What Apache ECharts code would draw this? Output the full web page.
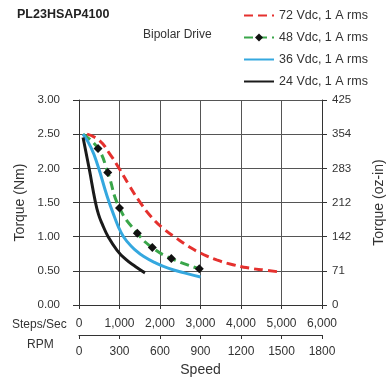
<!DOCTYPE html>
<html><head><meta charset="utf-8">
<script src="https://cdn.jsdelivr.net/npm/echarts@6/dist/echarts.min.js"></script>
<style>html,body{margin:0;padding:0;background:#fff}#c{width:388px;height:379px}</style>
</head><body><div id="c"></div>
<script>
var stepsTicks = ['0','1,000','2,000','3,000','4,000','5,000','6,000'];
var rpmTicks = ['0','300','600','900','1200','1500','1800'];
var ozTicks = ['0','71','142','212','283','354','425'];
var seriesNames = ['72 Vdc, 1 A rms','48 Vdc, 1 A rms','36 Vdc, 1 A rms','24 Vdc, 1 A rms'];
var v72 = [[200,2.5],[500,2.41],[750,2.22],[1000,1.99],[1250,1.74],[1500,1.51],[1800,1.28],[2100,1.11],[2400,0.98],[2700,0.86],[3000,0.76],[3400,0.66],[3800,0.59],[4200,0.54],[4600,0.51],[5000,0.48]];
var v48 = [[100,2.5],[470,2.29],[710,1.94],[1000,1.42],[1440,1.05],[1810,0.84],[2280,0.68],[2970,0.53]];
var v36 = [[100,2.5],[300,2.3],[470,2.03],[690,1.6],[870,1.3],[1040,1.06],[1200,0.92],[1400,0.8],[1600,0.71],[1880,0.62],[2200,0.54],[2600,0.47],[3000,0.41]];
var v24 = [[100,2.45],[250,2.0],[400,1.52],[480,1.33],[570,1.19],[720,1.0],[940,0.8],[1150,0.67],[1400,0.56],[1630,0.47]];

var FONT = '"Liberation Sans", Arial, sans-serif';
var TXT = '#333';
var AX = '#333';
var chart = echarts.init(document.getElementById('c'), null, {renderer:'canvas'});

var x0 = {type:'value',position:'bottom',min:0,max:6000,interval:1000,
  axisLine:{show:true,onZero:false,lineStyle:{color:AX,width:1}},
  axisTick:{show:true,length:4,lineStyle:{color:AX}},
  splitLine:{show:true,lineStyle:{color:'#555',width:1}},
  axisLabel:{color:TXT,fontFamily:FONT,fontSize:12,margin:13,formatter:function(v){return stepsTicks[Math.round(v/1000)];}}};
var x1 = {type:'value',position:'bottom',offset:30,min:0,max:6000,interval:1000,
  axisLine:{show:true,onZero:false,lineStyle:{color:AX,width:1}},
  axisTick:{show:true,length:4,lineStyle:{color:AX}},
  splitLine:{show:false},
  name:'Speed',nameLocation:'middle',nameGap:28,nameTextStyle:{color:TXT,fontFamily:FONT,fontSize:14},
  axisLabel:{color:TXT,fontFamily:FONT,fontSize:12,margin:11,formatter:function(v){return rpmTicks[Math.round(v/1000)];}}};
var y0 = {type:'value',position:'left',min:0,max:3,interval:0.5,
  axisLine:{show:true,onZero:false,lineStyle:{color:AX,width:1}},
  axisTick:{show:true,length:6,lineStyle:{color:AX}},
  name:'Torque (Nm)',nameLocation:'middle',nameGap:50,nameTextStyle:{color:TXT,fontFamily:FONT,fontSize:14},
  splitLine:{show:true,lineStyle:{color:'#555',width:1}},
  axisLabel:{color:TXT,fontFamily:FONT,fontSize:11.5,margin:19,formatter:function(v){return v.toFixed(2);}}};
var y1 = {type:'value',position:'right',min:0,max:3,interval:0.5,
  axisLine:{show:true,onZero:false,lineStyle:{color:AX,width:1}},
  axisTick:{show:true,length:5,lineStyle:{color:AX}},
  splitLine:{show:false},
  name:'Torque (oz-in)',nameLocation:'middle',nameGap:50,nameTextStyle:{color:TXT,fontFamily:FONT,fontSize:14},
  axisLabel:{color:TXT,fontFamily:FONT,fontSize:11.5,margin:10,formatter:function(v){return ozTicks[Math.round(v/0.5)];}}};

function mk(name, data, color, dashed, marker){
  return {name:name,type:'line',xAxisIndex:0,yAxisIndex:0,data:data,smooth:0.5,
    showSymbol:!!marker, symbol:marker?'diamond':'circle', symbolSize:9,
    itemStyle:{color:marker?'#111':'rgba(0,0,0,0)'},
    lineStyle:{color:color,width:3,type:dashed?[9,5]:'solid'},
    emphasis:{disabled:true}, animation:false};
}
var s48 = mk(seriesNames[1], v48.map(function(p,i){return i===0?{value:p,symbol:'none'}:p;}), '#3aa64a', true, true);
chart.setOption({
  animation:false,
  title:[
    {text:'PL23HSAP4100',left:15,top:6,padding:2,textStyle:{fontFamily:FONT,fontSize:12.5,fontWeight:'bold',color:'#222'}},
    {text:'Bipolar Drive',left:141,top:27,padding:2,textStyle:{fontFamily:FONT,fontSize:12,fontWeight:'normal',color:TXT}}
  ],
  legend:{orient:'vertical',left:243,top:9,padding:0,itemWidth:30,itemHeight:10,itemGap:9,
    textStyle:{fontFamily:FONT,fontSize:12.5,color:TXT},
    data:seriesNames},
  grid:{left:79,right:66,top:100,bottom:74,containLabel:false,outerBoundsMode:'none'},
  xAxis:[x0,x1],
  yAxis:[y0,y1],
  graphic:[
    {type:'text',left:12,top:319,style:{text:'Steps/Sec',fontFamily:FONT,fontSize:12,fill:TXT}},
    {type:'text',left:27,top:339,style:{text:'RPM',fontFamily:FONT,fontSize:12,fill:TXT}}
  ],
  series:[
    mk(seriesNames[0], v72, '#e5312e', true, false),
    s48,
    mk(seriesNames[2], v36, '#35a8df', false, false),
    mk(seriesNames[3], v24, '#1a1a1a', false, false)
  ]
});
</script></body></html>
